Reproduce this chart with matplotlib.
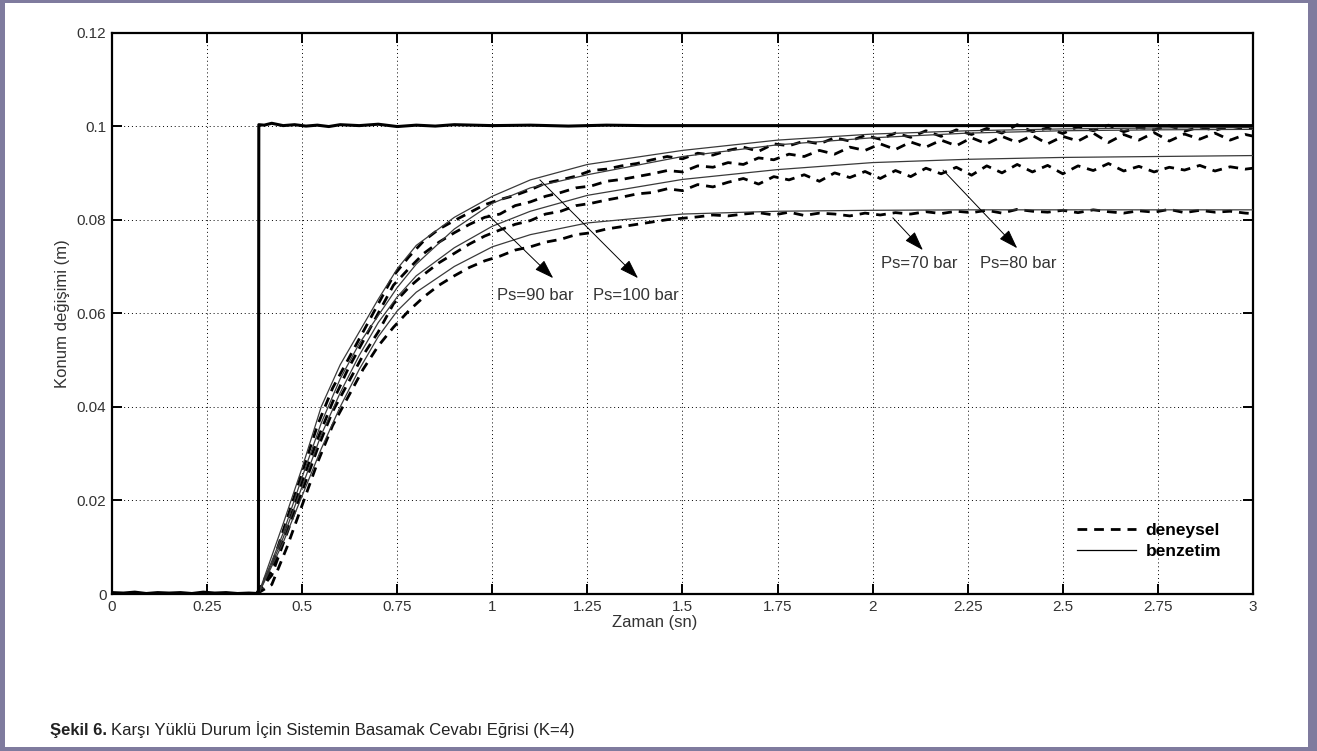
import numpy as np
import matplotlib.pyplot as plt
from matplotlib.patches import Rectangle
from matplotlib.lines import Line2D

plt.rcParams['font.family'] = ['Liberation Sans', 'DejaVu Sans']

# referans (basamak) girisi
ref_t = [0, 0.03, 0.06, 0.09, 0.12, 0.15, 0.18, 0.21, 0.24, 0.27, 0.30, 0.33, 0.36, 0.385,
         0.386, 0.40, 0.42, 0.45, 0.48, 0.51, 0.54, 0.57, 0.60, 0.65, 0.70, 0.75, 0.80,
         0.85, 0.90, 1.0, 1.1, 1.2, 1.3, 1.4, 1.5, 2.0, 2.5, 3.0]
ref_v = [0.0003, 0.0002, 0.0004, 0.0001, 0.0003, 0.0002, 0.0003, 0.0001, 0.0004, 0.0002, 0.0003, 0.0001, 0.0002, 0.0001,
         0.1003, 0.1002, 0.1006, 0.1001, 0.1003, 0.1000, 0.1002, 0.0999, 0.1003, 0.1001, 0.1004, 0.0999, 0.1002,
         0.1000, 0.1003, 0.1001, 0.1002, 0.1000, 0.1002, 0.1001, 0.1001, 0.1001, 0.1001, 0.1001]

# benzetim egrileri
sim_t = [0.385, 0.45, 0.50, 0.55, 0.60, 0.65, 0.70, 0.75, 0.80, 0.90, 1.00, 1.10, 1.25,
         1.50, 1.75, 2.00, 2.25, 2.50, 2.75, 3.00]
sim_100 = [0, 0.015, 0.027, 0.040, 0.049, 0.056, 0.063, 0.0695, 0.0745, 0.0805, 0.0850, 0.0885, 0.0918,
           0.0948, 0.0970, 0.0983, 0.0990, 0.0994, 0.0996, 0.0997]
sim_90 = [0, 0.013, 0.025, 0.0365, 0.046, 0.0535, 0.0595, 0.0655, 0.0705, 0.0780, 0.0835, 0.0868, 0.0896,
          0.0935, 0.0960, 0.0975, 0.0985, 0.0990, 0.0992, 0.0993]
sim_80 = [0, 0.012, 0.023, 0.034, 0.043, 0.051, 0.058, 0.0635, 0.0680, 0.0740, 0.0786, 0.0818, 0.0852,
          0.0886, 0.0907, 0.0922, 0.0929, 0.0933, 0.0935, 0.0937]
sim_70 = [0, 0.011, 0.021, 0.031, 0.040, 0.048, 0.055, 0.0605, 0.0645, 0.0700, 0.0742, 0.0768, 0.0793,
          0.0812, 0.0818, 0.0820, 0.0821, 0.0821, 0.0821, 0.0821]

# deneysel egriler (0.04 s aralik)
exp_t = np.round(np.arange(0.38, 3.03, 0.04), 2)
exp_100 = [0, 0.006, 0.016, 0.026, 0.036, 0.044, 0.050, 0.056, 0.062, 0.068, 0.072, 0.0755, 0.078,
           0.0798, 0.0815, 0.0832, 0.0843, 0.0852, 0.0864, 0.0878, 0.0885, 0.0893, 0.0905, 0.0908,
           0.0915, 0.0920, 0.0928, 0.0935, 0.0930, 0.0942, 0.0938, 0.0948, 0.0955, 0.0946, 0.0962,
           0.0958, 0.0968, 0.0962, 0.0975, 0.0968, 0.0980, 0.0972, 0.0985, 0.0976, 0.0990, 0.0978,
           0.0992, 0.0982, 0.0995, 0.0985, 0.1003, 0.0988, 0.0996, 0.0984, 0.0999, 0.0990, 0.1002,
           0.0988, 0.0997, 0.0992, 0.1001, 0.0989, 0.0998, 0.0991, 0.1000, 0.0994, 0.0997]
exp_90 = [0, 0.005, 0.014, 0.024, 0.033, 0.041, 0.048, 0.054, 0.060, 0.066, 0.0695, 0.0728, 0.0752,
          0.0772, 0.0790, 0.0805, 0.0812, 0.0830, 0.0838, 0.0850, 0.0858, 0.0868, 0.0872, 0.0882,
          0.0886, 0.0892, 0.0898, 0.0905, 0.0902, 0.0915, 0.0912, 0.0922, 0.0918, 0.0932, 0.0928,
          0.0940, 0.0935, 0.0948, 0.0940, 0.0955, 0.0948, 0.0962, 0.0950, 0.0966, 0.0955, 0.0970,
          0.0958, 0.0975, 0.0962, 0.0978, 0.0965, 0.0980, 0.0962, 0.0978, 0.0968, 0.0985, 0.0965,
          0.0982, 0.0970, 0.0986, 0.0968, 0.0983, 0.0972, 0.0985, 0.0970, 0.0982, 0.0975]
exp_80 = [0, 0.004, 0.013, 0.022, 0.031, 0.039, 0.045, 0.051, 0.056, 0.062, 0.0655, 0.0683, 0.0708,
          0.0728, 0.0748, 0.0765, 0.0778, 0.0790, 0.0798, 0.0812, 0.0818, 0.0830, 0.0835, 0.0842,
          0.0848, 0.0855, 0.0858, 0.0866, 0.0862, 0.0875, 0.0870, 0.0880, 0.0888, 0.0876, 0.0892,
          0.0885, 0.0896, 0.0882, 0.0900, 0.0890, 0.0903, 0.0888, 0.0905, 0.0892, 0.0910, 0.0898,
          0.0912, 0.0895, 0.0915, 0.0900, 0.0918, 0.0902, 0.0916, 0.0898, 0.0915, 0.0905, 0.0920,
          0.0904, 0.0914, 0.0902, 0.0912, 0.0906, 0.0916, 0.0904, 0.0913, 0.0908, 0.0912]
exp_70 = [0, 0.002, 0.010, 0.019, 0.028, 0.036, 0.042, 0.048, 0.053, 0.057, 0.0605, 0.0635, 0.0660,
          0.0680, 0.0698, 0.0712, 0.0722, 0.0735, 0.0742, 0.0752, 0.0758, 0.0768, 0.0772, 0.0780,
          0.0785, 0.0790, 0.0795, 0.0800, 0.0803, 0.0806, 0.0810, 0.0808, 0.0812, 0.0815, 0.0810,
          0.0816, 0.0809, 0.0814, 0.0812, 0.0808, 0.0814, 0.0810, 0.0815, 0.0812, 0.0817, 0.0813,
          0.0818, 0.0815, 0.0820, 0.0814, 0.0822, 0.0818, 0.0816, 0.0820, 0.0815, 0.0821, 0.0817,
          0.0814, 0.0819, 0.0816, 0.0822, 0.0815, 0.0820, 0.0816, 0.0818, 0.0814, 0.0812]

xticks = [0, 0.25, 0.5, 0.75, 1, 1.25, 1.5, 1.75, 2, 2.25, 2.5, 2.75, 3]
xtick_labels = ['0', '0.25', '0.5', '0.75', '1', '1.25', '1.5', '1.75', '2', '2.25', '2.5', '2.75', '3']
yticks = [0, 0.02, 0.04, 0.06, 0.08, 0.1, 0.12]
ytick_labels = ['0', '0.02', '0.04', '0.06', '0.08', '0.1', '0.12']

W, H = 1317, 751
fig = plt.figure(figsize=(W / 100, H / 100), dpi=100)
ax = fig.add_axes([112 / W, 1 - 594 / H, 1141 / W, 561.5 / H])

dash = (3.5, 2.5)
ax.plot(ref_t, ref_v, color='black', lw=2.2, zorder=4)
for s in [sim_100, sim_90, sim_80, sim_70]:
    ax.plot(sim_t, s, color='#3a3a3a', lw=0.9, zorder=3)
for e in [exp_100, exp_90, exp_80, exp_70]:
    ax.plot(exp_t, e, color='black', lw=2.0, dashes=dash, zorder=2)

ax.set_xlim(0, 3)
ax.set_ylim(0, 0.12)
ax.set_xticks(xticks)
ax.set_xticklabels(xtick_labels)
ax.set_yticks(yticks)
ax.set_yticklabels(ytick_labels)
ax.tick_params(direction='in', length=7, width=1.4, top=True, right=True,
               labelsize=11, labelcolor='#333333', pad=4)
ax.grid(True, color='black', lw=0.7, linestyle=(0, (1, 3)))
for sp in ax.spines.values():
    sp.set_linewidth(1.6)

ax.set_xlabel('Zaman (sn)', fontsize=12, color='#333333')
ax.set_ylabel('Konum değişimi (m)', fontsize=12, color='#333333')
ax.xaxis.set_label_coords(0.476, -0.037)
ax.yaxis.set_label_coords(-0.037, 0.5)

arw = dict(arrowstyle='-|>,head_length=1.2,head_width=0.4', color='black', lw=0.7,
           shrinkA=0, shrinkB=0)
notes = [('Ps=90 bar', (0.989, 0.0810), (1.16, 0.0675), (1.112, 0.0639)),
         ('Ps=100 bar', (1.125, 0.0885), (1.383, 0.0675), (1.378, 0.0639)),
         ('Ps=70 bar', (2.053, 0.0804), (2.132, 0.0735), (2.122, 0.0707)),
         ('Ps=80 bar', (2.185, 0.0906), (2.38, 0.0739), (2.382, 0.0707))]
for txt, p0, p1, pt in notes:
    ax.annotate('', xy=p1, xytext=p0, arrowprops=arw, zorder=5)
    ax.text(pt[0], pt[1], txt, fontsize=12, color='#333333', ha='center', va='center')

handles = [Line2D([], [], color='black', lw=2.0, dashes=dash),
           Line2D([], [], color='black', lw=0.9)]
ax.legend(handles, ['deneysel', 'benzetim'], loc='upper left', bbox_to_anchor=(0.8457, 0.126),
          frameon=False, borderpad=0, borderaxespad=0, handlelength=3.4, labelspacing=0.3,
          handletextpad=0.55, prop={'size': 12.5, 'weight': 'bold'})

# cerceve
bc = '#7f7b9e'
tf = fig.transFigure
for (x0, y0, w, h) in [(0, 0, 5, H), (0, H - 3, W, 3), (W - 9, 0, 9, H), (0, 0, W, 4)]:
    fig.patches.append(Rectangle((x0 / W, y0 / H), w / W, h / H, transform=tf,
                                 facecolor=bc, edgecolor='none'))

# alt yazi
t1 = fig.text(50 / W, 1 - 730 / H, 'Şekil 6.', fontsize=12, fontweight='bold',
              va='center', color='#222222')
r = fig.canvas.get_renderer()
bb = t1.get_window_extent(r)
fig.text((bb.x1 + 4) / W, 1 - 730 / H, 'Karşı Yüklü Durum İçin Sistemin Basamak Cevabı Eğrisi (K=4)',
         fontsize=12, va='center', color='#222222')

fig.savefig('out.png', dpi=100)
